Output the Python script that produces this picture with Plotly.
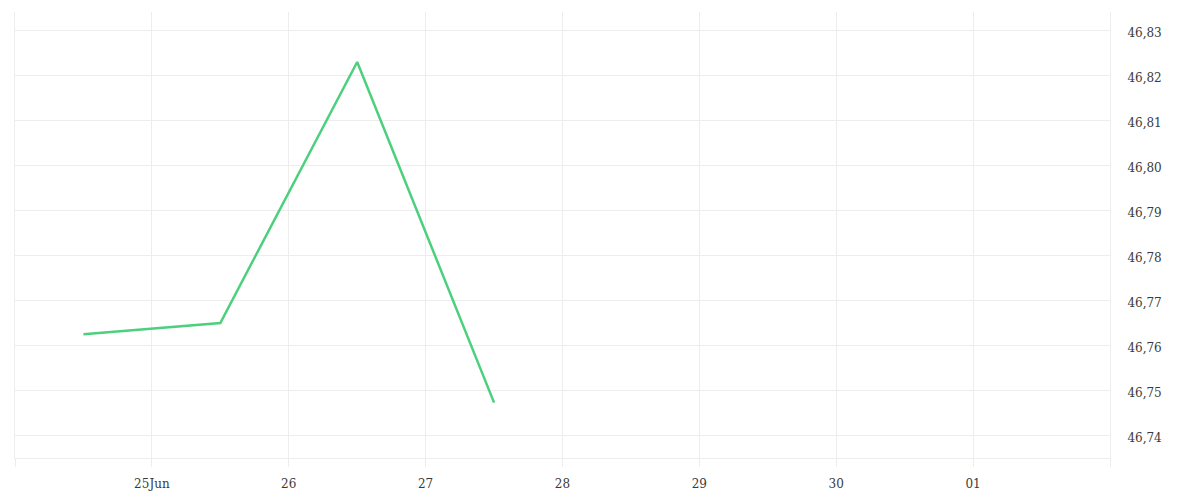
import plotly.graph_objects as go

# data
dates = ['2023-06-24 12:00', '2023-06-25 12:00', '2023-06-26 12:00', '2023-06-27 12:00']
values = [46.7624, 46.7649, 46.8229, 46.7472]

tick_dates = ['2023-06-24', '2023-06-25', '2023-06-26', '2023-06-27', '2023-06-28',
              '2023-06-29', '2023-06-30', '2023-07-01', '2023-07-02']
tick_labels = ['', '25Jun', '26', '27', '28', '29', '30', '01', '']

y_ticks = [46.74, 46.75, 46.76, 46.77, 46.78, 46.79, 46.80, 46.81, 46.82, 46.83]

grid = '#ededed'

fig = go.Figure()
fig.add_trace(go.Scatter(x=dates, y=values, mode='lines',
                         line=dict(color='#4cd07d', width=2.5),
                         showlegend=False))

# page body has an 8px margin, so the figure is shrunk by that much
fig.update_layout(
    width=1192, height=492,
    margin=dict(l=7, r=90, t=4, b=42),
    paper_bgcolor='white', plot_bgcolor='white',
    separators=',.',
    font=dict(family='DejaVu Serif', size=12, color='#3a3a3a'),
)
fig.update_xaxes(
    range=['2023-06-24', '2023-07-02'],
    tickvals=tick_dates, ticktext=tick_labels,
    showgrid=True, gridcolor=grid, gridwidth=1,
    ticks='outside', ticklen=8, tickcolor=grid,
    showline=True, linecolor=grid, linewidth=1,
    ticklabelstandoff=7, zeroline=False,
)
fig.update_yaxes(
    side='right', range=[46.7349, 46.834],
    tickvals=y_ticks, tickformat='.2f',
    showgrid=True, gridcolor=grid, gridwidth=1,
    showline=True, mirror=True, linecolor=grid, linewidth=1,
    ticks='', ticklabelstandoff=14, ticklabelshift=3, zeroline=False,
)

fig.write_html('out.html')
